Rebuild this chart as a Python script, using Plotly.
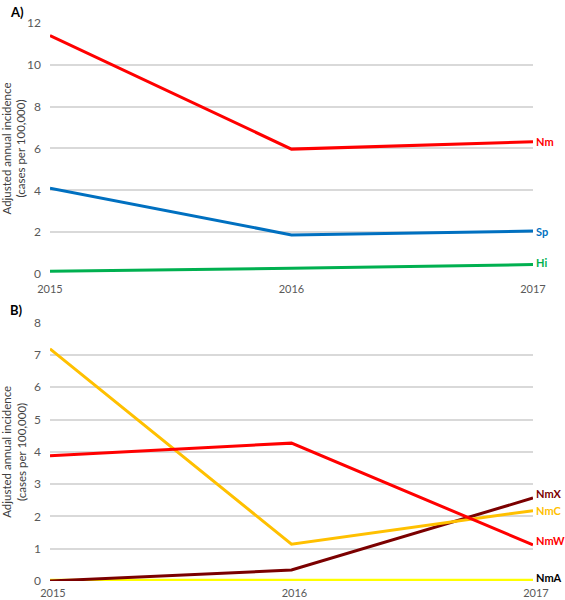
import plotly.graph_objects as go

years = [2015, 2016, 2017]
year_labels = ["2015", "2016", "2017"]

# Panel A
nm = [11.4, 5.97, 6.32]
sp = [4.1, 1.87, 2.05]
hi = [0.13, 0.27, 0.45]

# Panel B
nmx = [0.0, 0.34, 2.57]
nmc = [7.19, 1.14, 2.18]
nmw = [3.88, 4.27, 1.12]
nma = [0.02, 0.02, 0.02]

tick_a = [0, 2, 4, 6, 8, 10, 12]
tick_b = [0, 1, 2, 3, 4, 5, 6, 7, 8]

FONT = "Lato"
GRAY = "#595959"

fig = go.Figure()

def add(x, y, color, xa, ya, name):
    fig.add_trace(go.Scatter(x=x, y=y, mode="lines", name=name,
                             line=dict(color=color, width=3),
                             xaxis=xa, yaxis=ya, showlegend=False,
                             hoverinfo="x+y+name"))

add(years, nm, "#FF0000", "x", "y", "Nm")
add(years, sp, "#0070C0", "x", "y", "Sp")
add(years, hi, "#00B050", "x", "y", "Hi")

add(years, nma, "#FFFF00", "x2", "y2", "NmA")
add(years, nmx, "#7B0000", "x2", "y2", "NmX")
add(years, nmc, "#FFC000", "x2", "y2", "NmC")
add(years, nmw, "#FF0000", "x2", "y2", "NmW")

xcommon = dict(range=[2015, 2017], tickvals=years, ticktext=year_labels,
               showgrid=False, zeroline=False, showline=False, ticks="",
               automargin=False,
               tickfont=dict(family=FONT, size=11, color=GRAY), fixedrange=True)
ycommon = dict(showgrid=True, gridcolor="#D9D9D9", gridwidth=1.5, zeroline=False,
               showline=False, ticks="", ticklabelstandoff=8, automargin=False,
               tickfont=dict(family=FONT, size=12, color=GRAY),
               fixedrange=True)

fig.update_layout(
    width=565, height=600,
    margin=dict(l=50, r=32, t=23, b=19),
    plot_bgcolor="white", paper_bgcolor="white",
    xaxis=dict(domain=[0, 1], anchor="y", ticklabelstandoff=7, **xcommon),
    yaxis=dict(domain=[0.5502, 1], anchor="x", range=[0, 12], tickvals=tick_a, **ycommon),
    xaxis2=dict(domain=[0, 1], anchor="y2", ticklabelstandoff=4, ticklabelshift=3, **xcommon),
    yaxis2=dict(domain=[0, 0.4629], anchor="x2", range=[0, 8], tickvals=tick_b, **ycommon),
)

ann = []
def lab(text, y, color, xref, yref, yshift=0):
    ann.append(dict(text="<b>" + text + "</b>", x=2017, y=y, xref=xref, yref=yref,
                    xanchor="left", yanchor="middle", xshift=1, yshift=yshift, showarrow=False,
                    font=dict(family=FONT, size=11, color=color)))

lab("Nm", nm[2], "#FF0000", "x", "y")
lab("Sp", sp[2], "#0070C0", "x", "y")
lab("Hi", hi[2], "#00B050", "x", "y", 2)
lab("NmX", nmx[2], "#7B0000", "x2", "y2", 5)
lab("NmC", nmc[2], "#FFC000", "x2", "y2")
lab("NmW", nmw[2], "#FF0000", "x2", "y2", 4)
lab("NmA", nma[2], "#000000", "x2", "y2", 3)

title = "Adjusted annual incidence<br>(cases per 100,000)"
for ydom in [(0.5502 + 1) / 2, 0.4629 / 2]:
    ann.append(dict(text=title, x=0, y=ydom, xref="paper", yref="paper",
                    xanchor="center", yanchor="middle", xshift=-36, textangle=-90,
                    showarrow=False, font=dict(family=FONT, size=11.5, color="#404040")))

ann.append(dict(text="<b>A)</b>", x=0, y=1, xref="paper", yref="paper", xanchor="left",
                yanchor="middle", xshift=-42, yshift=11, showarrow=False,
                font=dict(family=FONT, size=13, color="black")))
ann.append(dict(text="<b>B)</b>", x=0, y=0.4629, xref="paper", yref="paper", xanchor="left",
                yanchor="middle", xshift=-42, yshift=13, showarrow=False,
                font=dict(family=FONT, size=13, color="black")))

fig.update_layout(annotations=ann)
fig.write_html("out.html", config={"displayModeBar": False},
               post_script="document.body.style.margin='0';document.body.style.overflow='hidden';")
